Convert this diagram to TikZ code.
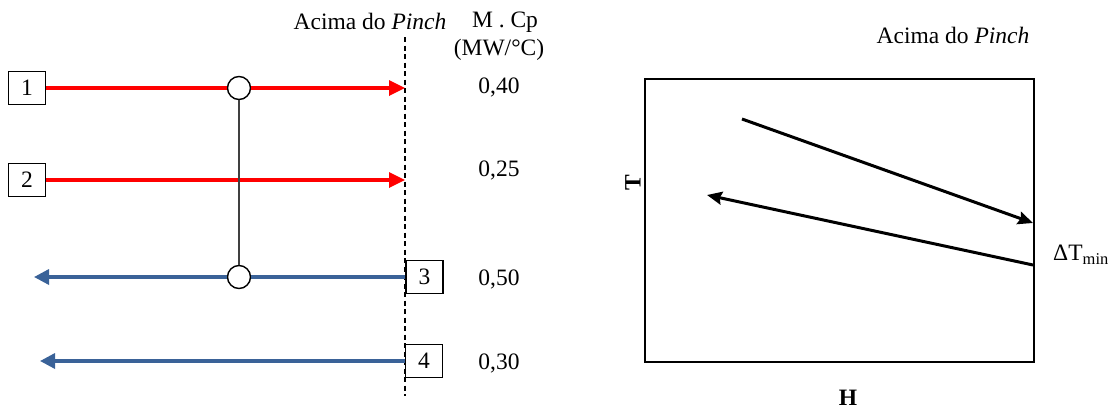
\documentclass[tikz,border=0pt]{standalone}
\usepackage{fontspec}
\setmainfont{Liberation Serif}
\usetikzlibrary{arrows.meta}
\definecolor{hotred}{RGB}{255,0,0}
\definecolor{coldblue}{RGB}{58,98,152}
\definecolor{linkgray}{RGB}{64,64,64}
\begin{document}
\begin{tikzpicture}[x=1pt,y=-1pt,
  every node/.style={font=\fontsize{23.5}{27}\selectfont, inner sep=0pt},
  numbox/.style={draw, fill=white, line width=1.3pt, minimum width=37pt, minimum height=33pt},
  hotline/.style={hotred, line width=3.3pt, -{Triangle[length=16pt,width=15pt]}},
  hotseg/.style={hotred, line width=3.3pt},
  coldline/.style={coldblue, line width=3.3pt, -{Triangle[length=15pt,width=15pt]}},
  coldseg/.style={coldblue, line width=3.3pt},
  exch/.style={circle, draw, fill=white, line width=1.4pt, minimum size=23pt},
  plotarrow/.style={line width=3pt, -{Stealth[length=15pt,width=13pt,inset=2pt]}},
  plotline/.style={line width=3pt}]
\useasboundingbox (0,0) rectangle (1115,410);

% ---------- left: grid diagram ----------
\coordinate (pinchtop) at (405,37);
\coordinate (pinchbot) at (405,396);
\draw[dashed, line width=1.4pt, dash pattern=on 5pt off 3.5pt] (pinchtop) -- (pinchbot);

\node (ttl) at (370,21) {Acima do \textit{Pinch}};
\node (mcp) at (505,22) {M . Cp};
\node (unit) at (499,50) {(MW/°C)};

\node[numbox] (b1) at (27,88) {1};
\node[numbox] (b2) at (27,180) {2};
\node[numbox] (b3) at (424.5,277) {3};
\node[numbox] (b4) at (424,361) {4};

\node[exch] (c1) at (239,88) {};
\node[exch] (c3) at (239,277) {};

\coordinate (p1) at (405,88);
\coordinate (p2) at (405,180);
\coordinate (e3) at (34,277);
\coordinate (e4) at (40,361);

\draw[hotseg] (b1.east) -- (c1.west);
\draw[hotline] (c1.east) -- (p1);
\draw[hotline] (b2.east) -- (p2);
\draw[coldseg] (b3.west) -- (c3.east);
\draw[coldline] (c3.west) -- (e3);
\draw[coldline] (b4.west) -- (e4);
\draw[linkgray, line width=1.5pt] (c1.south) -- (c3.north);

\node (v1) at (499,87) {0,40};
\node (v2) at (499,170) {0,25};
\node (v3) at (499,279) {0,50};
\node (v4) at (499,363) {0,30};

% ---------- right: T-H diagram ----------
\node (ttr) at (953,35) {Acima do \textit{Pinch}};
\node[draw, line width=1.6pt, minimum width=389pt, minimum height=283pt] (plot) at (839.5,220.5) {};
\coordinate (hs) at (742,119);
\coordinate (he) at (1033,223);
\coordinate (cs) at (1033,265);
\coordinate (ce) at (707,195);
\draw[plotarrow] (hs) -- (he);
\draw[plotarrow] (cs) -- (ce);
\node (dt) at (1081,255) {ΔT\textsubscript{min}};
\node[rotate=90, font=\fontsize{23.5}{27}\selectfont\bfseries] (tlab) at (633,183) {T};
\node[font=\fontsize{23.5}{27}\selectfont\bfseries] (hlab) at (848,398) {H};
\end{tikzpicture}
\end{document}
